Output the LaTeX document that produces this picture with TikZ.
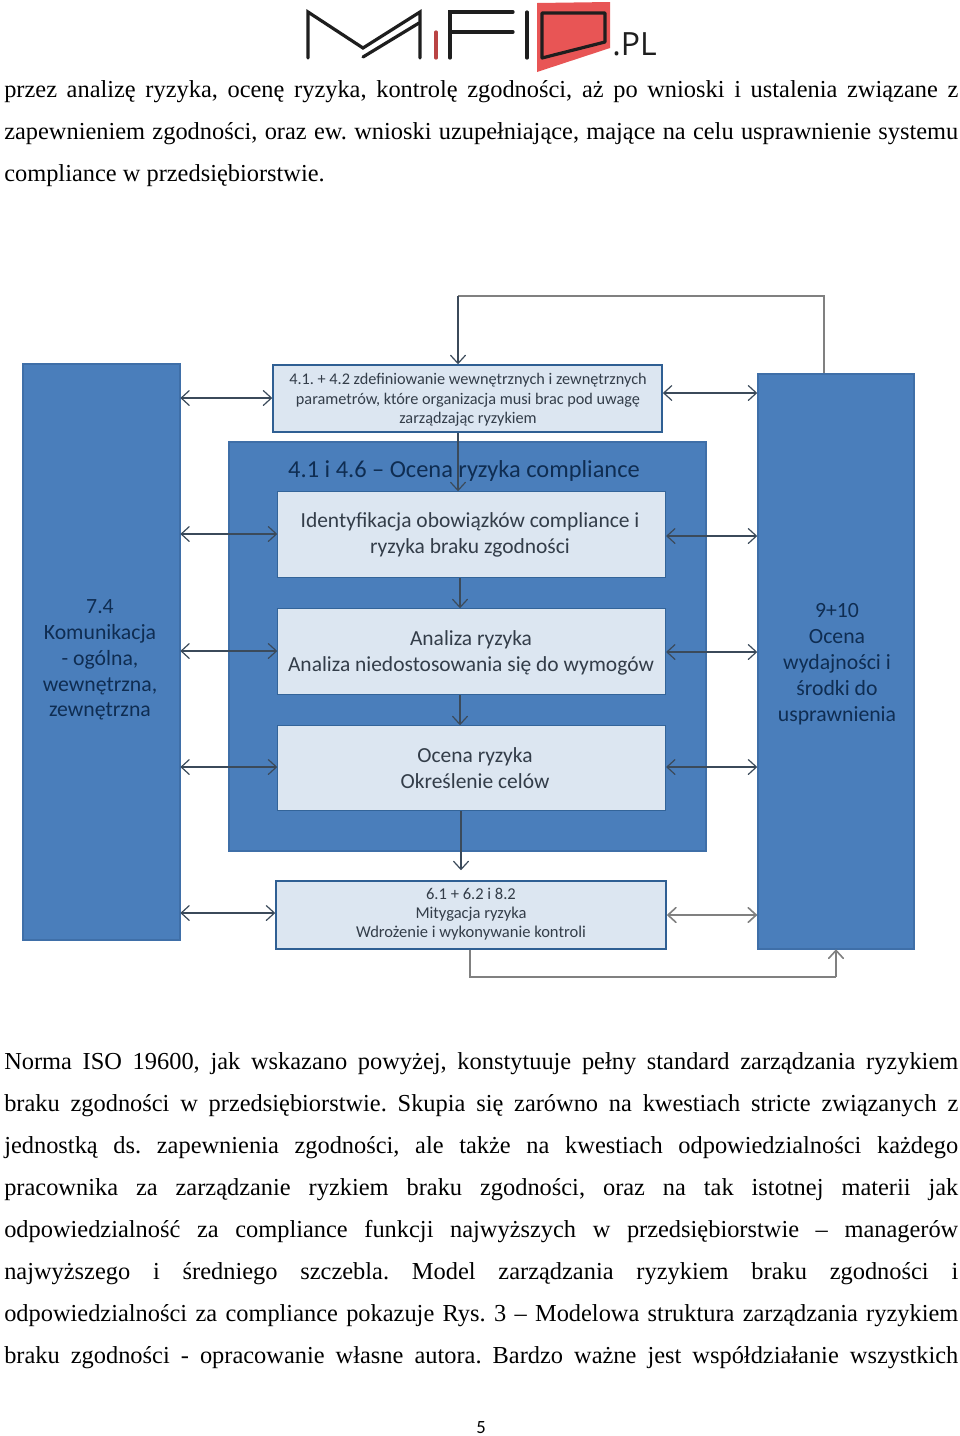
\documentclass[tikz,border=0pt]{standalone}
\usepackage{fontspec}
\setmainfont{Liberation Serif}
\newfontfamily\calf{Carlito}
\newfontfamily\logof{Open Sans}
\usetikzlibrary{arrows.meta}
\definecolor{barblue}{HTML}{4A7EBB}
\definecolor{barline}{HTML}{3F6FA8}
\definecolor{paleblue}{HTML}{DCE6F1}
\definecolor{boxline}{HTML}{2F5F93}
\definecolor{navy}{HTML}{0F2D52}
\definecolor{ink}{HTML}{333D49}
\definecolor{wire}{HTML}{3B4A5A}
\definecolor{greywire}{HTML}{808080}
\definecolor{logored}{HTML}{E85555}
\definecolor{logoblack}{HTML}{1E1E1E}
\frenchspacing
\tikzset{
  x=0.75pt,y=-0.75pt,
  panel/.style={draw=barline,line width=1.2pt,fill=barblue,inner sep=0pt,anchor=north west},
  pale/.style={draw=boxline,line width=1.6pt,fill=paleblue,inner sep=0pt,anchor=north west,align=center,text=ink},
  palethin/.style={pale,draw=boxline!85!barblue,line width=1pt},
  bartext/.style={align=center,text=navy,font=\calf\fontsize{16.3}{19.4}\selectfont},
  boxtext/.style={align=center,text=ink,inner sep=0pt,font=\calf\fontsize{16.1}{20}\selectfont},
  tip/.style={-{Straight Barb[length=6pt,width=11pt,round]}},
  both/.style={{Straight Barb[length=6pt,width=11pt,round]}-{Straight Barb[length=6pt,width=11pt,round]}},
  wireline/.style={draw=wire,line width=0.9pt},
  greyline/.style={draw=greywire,line width=1.2pt},
  textline/.style={anchor=base west,inner sep=0pt,font=\fontsize{18.3}{20}\selectfont},
  logostroke/.style={draw=logoblack,line width=2.4pt,line cap=round,line join=miter},
}
\newcommand{\jl}[3]{\node[textline] (#1) at (4,#2) {\makebox[715.5pt][s]{#3}};}
\newcommand{\boxat}[6]{\node[#1,minimum width=#4*0.75pt,minimum height=#5*0.75pt] (#2) at (#3) {#6};}
\begin{document}
\begin{tikzpicture}
\useasboundingbox (0,0) rectangle (960,1436);
\fill[white] (0,0) rectangle (960,1436);
% logo
\fill[logored] (537,3) -- (610,2) -- (610,48) -- (537,72) -- cycle;
\draw[logostroke] (308,58) -- (308,12) -- (363,48) -- (420,12) -- (420,58);
\draw[logostroke] (363,57) -- (419,23);
\draw[logostroke,draw=logored!80!black] (436,32) -- (436,58);
\draw[logostroke] (450,58) -- (450,12) -- (513,12);
\draw[logostroke] (450,32) -- (513,32);
\draw[logostroke] (527,12) -- (527,58);
\draw[logostroke,line join=round] (542,13) -- (605,13) -- (605,42) -- (542,58) -- cycle;
\node[anchor=base west,inner sep=0pt,text=logoblack,font=\logof\fontsize{24}{24}\selectfont] (logopl) at (612,55) {.PL};
% text above
\jl{t1}{97}{przez analizę ryzyka, ocenę ryzyka, kontrolę zgodności, aż po wnioski i ustalenia związane z}
\jl{t2}{139}{zapewnieniem zgodności, oraz ew. wnioski uzupełniające, mające na celu usprawnienie systemu}
\node[textline] (t3) at (4,181) {compliance w przedsiębiorstwie.};
% panels
\boxat{panel}{L}{22,363}{157}{576}{}
\boxat{panel}{R}{757,373}{156}{575}{}
\boxat{panel}{big}{228,441}{477}{409}{}
\boxat{pale}{top}{272,364}{389}{67}{}
\boxat{palethin}{bA}{277,491}{388}{86}{}
\boxat{palethin}{bB}{277,608}{388}{86}{}
\boxat{palethin}{bC}{277,725}{388}{85}{}
\boxat{pale}{bD}{275,880}{390}{68}{}
% panel texts
\node[bartext] (Lt) at (100,660) {7.4\\Komunikacja\\- ogólna,\\wewnętrzna,\\zewnętrzna};
\node[bartext] (Rt) at (837,664) {9+10\\Ocena\\wydajności i\\środki do\\usprawnienia};
\node[text=navy,font=\calf\fontsize{18.3}{20}\selectfont,inner sep=0pt] (bigt) at (464,471) {4.1 i 4.6 – Ocena ryzyka compliance};
\node[align=center,text=ink,inner sep=0pt,font=\calf\fontsize{12.2}{14.6}\selectfont] (topt) at (468,400) {4.1. + 4.2 zdefiniowanie wewnętrznych i zewnętrznych\\parametrów, które organizacja musi brac pod uwagę\\zarządzając ryzykiem};
\node[boxtext] (bAt) at (470,535) {Identyfikacja obowiązków compliance i\\ryzyka braku zgodności};
\node[boxtext] (bBt) at (471,653) {Analiza ryzyka\\Analiza niedostosowania się do wymogów};
\node[boxtext] (bCt) at (475,768) {Ocena ryzyka\\Określenie celów};
\node[align=center,text=ink,inner sep=0pt,font=\calf\fontsize{12.4}{14.4}\selectfont] (bDt) at (471,914) {6.1 + 6.2 i 8.2\\Mitygacja ryzyka\\Wdrożenie i wykonywanie kontroli};
% connectors
\coordinate (fa) at (824,296);
\coordinate (fb) at (458,296);
\draw[greyline] (R.north -| fa) -- (fa) -- (fb);
\draw[wireline,tip] (fb) -- (top.north -| fb);
\draw[wireline,tip] (top.south -| fb) -- (bA.north -| fb);
\coordinate (v2) at (460,600);
\draw[wireline,tip] (bA.south -| v2) -- (bB.north -| v2);
\draw[wireline,tip] (bB.south -| v2) -- (bC.north -| v2);
\coordinate (v3) at (461,870);
\draw[wireline,tip] (bC.south -| v3) -- (v3);
\coordinate (ga) at (470,977);
\coordinate (gb) at (836,977);
\draw[greyline] (bD.south -| ga) -- (ga) -- (gb);
\draw[greyline,tip] (gb) -- (R.south -| gb);
\coordinate (yl0) at (0,398); \coordinate (yr0) at (0,393);
\coordinate (yl1) at (0,534); \coordinate (yr1) at (0,536);
\coordinate (yl2) at (0,651); \coordinate (yr2) at (0,652);
\coordinate (yl3) at (0,767); \coordinate (yr3) at (0,767);
\coordinate (yl4) at (0,913); \coordinate (yr4) at (0,915);
\draw[wireline,both] (L.east |- yl0) -- (top.west |- yl0);
\draw[wireline,both] (R.west |- yr0) -- (top.east |- yr0);
\draw[wireline,both] (L.east |- yl1) -- (bA.west |- yl1);
\draw[wireline,both] (R.west |- yr1) -- (bA.east |- yr1);
\draw[wireline,both] (L.east |- yl2) -- (bB.west |- yl2);
\draw[wireline,both] (R.west |- yr2) -- (bB.east |- yr2);
\draw[wireline,both] (L.east |- yl3) -- (bC.west |- yl3);
\draw[wireline,both] (R.west |- yr3) -- (bC.east |- yr3);
\draw[wireline,both] (L.east |- yl4) -- (bD.west |- yl4);
\draw[greyline,both] (R.west |- yr4) -- (bD.east |- yr4);
% text below
\jl{p1}{1069}{Norma ISO 19600, jak wskazano powyżej, konstytuuje pełny standard zarządzania ryzykiem}
\jl{p2}{1111}{braku zgodności w przedsiębiorstwie. Skupia się zarówno na kwestiach stricte związanych z}
\jl{p3}{1153}{jednostką ds. zapewnienia zgodności, ale także na kwestiach odpowiedzialności każdego}
\jl{p4}{1195}{pracownika za zarządzanie ryzkiem braku zgodności, oraz na tak istotnej materii jak}
\jl{p5}{1237}{odpowiedzialność za compliance funkcji najwyższych w przedsiębiorstwie – managerów}
\jl{p6}{1279}{najwyższego i średniego szczebla. Model zarządzania ryzykiem braku zgodności i}
\jl{p7}{1321}{odpowiedzialności za compliance pokazuje Rys. 3 – Modelowa struktura zarządzania ryzykiem}
\jl{p8}{1363}{braku zgodności - opracowanie własne autora. Bardzo ważne jest współdziałanie wszystkich}
\node[inner sep=0pt,font=\calf\fontsize{14}{16}\selectfont] (pg) at (481,1428) {5};
\end{tikzpicture}
\end{document}
